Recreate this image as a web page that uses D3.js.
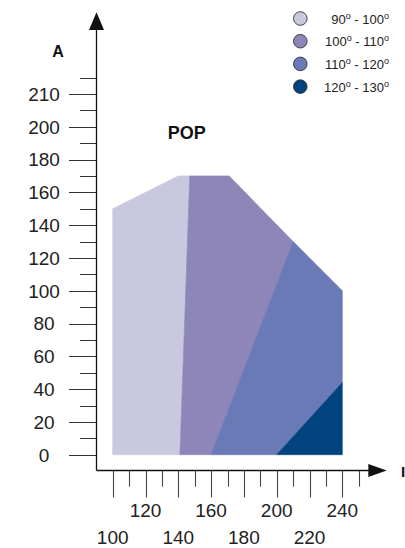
<!DOCTYPE html>
<html>
<head>
<meta charset="utf-8">
<script src="https://cdn.jsdelivr.net/npm/d3@7"></script>
<style>
  body { margin: 0; background: #fff; }
  svg { display: block; font-family: 'Liberation Sans', Arial, sans-serif; }
</style>
</head>
<body>
<div class="chart"></div>
<script>
// regions, polygons in data units [I, A]
var regionNames = ['90-100', '100-110', '110-120', '120-130'];
var regionColors = ['#c8c9de', '#8e85b8', '#6a7ab6', '#00437f'];
var regionPoints = [
  [[100, 0], [100, 150], [140, 170], [147, 170], [141, 0]],
  [[141, 0], [147, 170], [171, 170], [210, 130], [160, 0]],
  [[160, 0], [210, 130], [240, 100], [240, 44], [200, 0]],
  [[200, 0], [240, 44], [240, 0]]
];

var legendFrom = ['90', '100', '110', '120'];
var legendTo = ['100', '110', '120', '130'];

var yMajor = [0, 20, 40, 60, 80, 100, 120, 140, 160, 180, 200, 220];
var yLabels = ['0', '20', '40', '60', '80', '100', '120', '140', '160', '180', '200', '210'];
var yMinor = [10, 30, 50, 70, 90, 110, 130, 150, 170, 190, 210, 230];

var xMajor = [100, 120, 140, 160, 180, 200, 220, 240];
var xMinor = [110, 130, 150, 170, 190, 210, 230, 250];
var xUpper = [120, 160, 200, 240];
var xLower = [100, 140, 180, 220];

var svg = d3
  .select('.chart')
  .append('svg')
  .attr('width', 405)
  .attr('height', 548);

var x = d3.scaleLinear().domain([100, 240]).range([112.7, 342.3]);
var y = d3.scaleLinear().domain([0, 200]).range([454.7, 126.7]);

var axisX = 96.5,
  axisY = 470.5;

// regions
var line = d3
  .line()
  .x(function (d) { return x(d[0]); })
  .y(function (d) { return y(d[1]); })
  .curve(d3.curveLinearClosed);

svg
  .selectAll('.region')
  .data(regionPoints)
  .enter()
  .append('path')
  .attr('class', 'region')
  .attr('d', line)
  .attr('fill', function (d, i) { return regionColors[i]; })
  .attr('stroke', function (d, i) { return regionColors[i]; })
  .attr('stroke-width', 0.6);

// y ticks
svg
  .selectAll('.ymaj')
  .data(yMajor)
  .enter()
  .append('line')
  .attr('x1', 69)
  .attr('x2', axisX)
  .attr('y1', function (d) { return Math.round(y(d)) + 0.5; })
  .attr('y2', function (d) { return Math.round(y(d)) + 0.5; })
  .attr('stroke', '#333')
  .attr('stroke-width', 1);

svg
  .selectAll('.ymin')
  .data(yMinor)
  .enter()
  .append('line')
  .attr('x1', 80)
  .attr('x2', axisX)
  .attr('y1', function (d) { return Math.round(y(d)) + 0.5; })
  .attr('y2', function (d) { return Math.round(y(d)) + 0.5; })
  .attr('stroke', '#333')
  .attr('stroke-width', 1);

svg
  .selectAll('.ylab')
  .data(yMajor)
  .enter()
  .append('text')
  .attr('x', 44)
  .attr('y', function (d) { return y(d) + 6.8; })
  .attr('text-anchor', 'middle')
  .attr('font-size', 19)
  .attr('fill', '#222')
  .text(function (d, i) { return yLabels[i]; });

// x ticks
svg
  .selectAll('.xmaj')
  .data(xMajor)
  .enter()
  .append('line')
  .attr('x1', function (d) { return Math.round(x(d)) + 0.5; })
  .attr('x2', function (d) { return Math.round(x(d)) + 0.5; })
  .attr('y1', axisY)
  .attr('y2', 497.5)
  .attr('stroke', '#444')
  .attr('stroke-width', 1.1);

svg
  .selectAll('.xmin')
  .data(xMinor)
  .enter()
  .append('line')
  .attr('x1', function (d) { return Math.round(x(d)) + 0.5; })
  .attr('x2', function (d) { return Math.round(x(d)) + 0.5; })
  .attr('y1', axisY)
  .attr('y2', 486.7)
  .attr('stroke', '#444')
  .attr('stroke-width', 1.1);

svg
  .selectAll('.xup')
  .data(xUpper)
  .enter()
  .append('text')
  .attr('x', function (d) { return x(d); })
  .attr('y', 516.7)
  .attr('text-anchor', 'middle')
  .attr('font-size', 19)
  .attr('fill', '#222')
  .text(function (d) { return d; });

svg
  .selectAll('.xlo')
  .data(xLower)
  .enter()
  .append('text')
  .attr('x', function (d) { return x(d); })
  .attr('y', 544)
  .attr('text-anchor', 'middle')
  .attr('font-size', 19)
  .attr('fill', '#222')
  .text(function (d) { return d; });

// axes with arrows
svg
  .append('line')
  .attr('x1', axisX)
  .attr('x2', axisX)
  .attr('y1', axisY)
  .attr('y2', 28)
  .attr('stroke', '#111')
  .attr('stroke-width', 1.3);

svg
  .append('line')
  .attr('x1', axisX)
  .attr('x2', 370)
  .attr('y1', axisY)
  .attr('y2', axisY)
  .attr('stroke', '#111')
  .attr('stroke-width', 1.3);

svg
  .append('path')
  .attr('d', 'M' + axisX + ',12.3 L' + (axisX + 7.5) + ',30 L' + (axisX - 7.5) + ',30 Z')
  .attr('fill', '#111');

svg
  .append('path')
  .attr('d', 'M386.7,' + axisY + ' L368.3,' + (axisY - 6.5) + ' L368.3,' + (axisY + 6.5) + ' Z')
  .attr('fill', '#111');

// axis names
svg
  .append('text')
  .attr('x', 58)
  .attr('y', 56.7)
  .attr('text-anchor', 'middle')
  .attr('font-size', 16)
  .attr('font-weight', 'bold')
  .attr('fill', '#111')
  .text('A');

svg
  .append('text')
  .attr('x', 401)
  .attr('y', 476.7)
  .attr('font-size', 15)
  .attr('font-weight', 'bold')
  .attr('fill', '#111')
  .text('I');

svg
  .append('text')
  .attr('x', 186.7)
  .attr('y', 139.3)
  .attr('text-anchor', 'middle')
  .attr('font-size', 18)
  .attr('font-weight', 'bold')
  .attr('fill', '#111')
  .text('POP');

// legend
var legend = svg
  .selectAll('.legend')
  .data(regionNames)
  .enter()
  .append('g')
  .attr('class', 'legend')
  .attr('transform', function (d, i) { return 'translate(0,' + (18.5 + i * 22.7) + ')'; });

legend
  .append('circle')
  .attr('cx', 300.3)
  .attr('cy', 0)
  .attr('r', 6.8)
  .attr('fill', function (d, i) { return regionColors[i]; })
  .attr('stroke', '#333')
  .attr('stroke-width', 0.9);

var lt = legend
  .append('text')
  .attr('x', 389)
  .attr('y', 5)
  .attr('text-anchor', 'end')
  .attr('font-size', 13)
  .attr('fill', '#222');

lt.append('tspan').text(function (d, i) { return legendFrom[i]; });
lt.append('tspan').attr('font-size', 9).attr('dy', -5).text('o');
lt.append('tspan').attr('dy', 5).text(' - ');
lt.append('tspan').text(function (d, i) { return legendTo[i]; });
lt.append('tspan').attr('font-size', 9).attr('dy', -5).text('o');
</script>
</body>
</html>
